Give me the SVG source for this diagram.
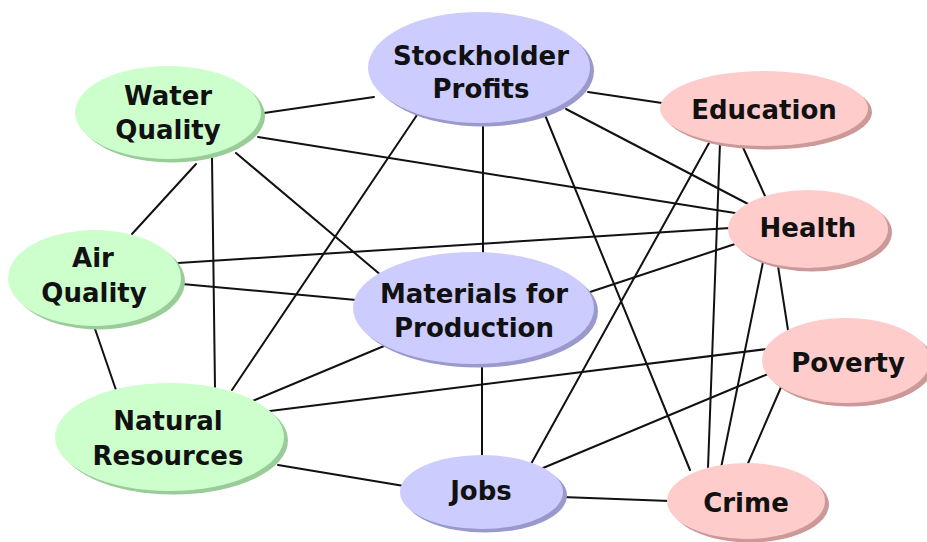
<svg xmlns="http://www.w3.org/2000/svg" width="927" height="542" viewBox="0 0 927 542">
<style>
.c line{stroke:#111;stroke-width:2;stroke-linecap:round}
.sg{fill:#99cc99}.fg{fill:#ccffcc}
.sb{fill:#9999cc}.fb{fill:#ccccff}
.sp{fill:#cc9999}.fp{fill:#ffcccc}
text{font-family:"DejaVu Sans","Liberation Sans",sans-serif;font-weight:bold;font-size:26px;fill:#111;text-anchor:middle}
</style>
<rect width="927" height="542" fill="#fff"/>
<g id="connectors" class="c">
<line x1="264" y1="113" x2="374" y2="97"/>
<line x1="258" y1="137" x2="735" y2="213"/>
<line x1="236" y1="153" x2="382" y2="276"/>
<line x1="196" y1="164" x2="132" y2="234"/>
<line x1="212" y1="158" x2="215" y2="388"/>
<line x1="588" y1="92" x2="662" y2="103"/>
<line x1="566" y1="109" x2="750" y2="205"/>
<line x1="483" y1="122" x2="483" y2="254"/>
<line x1="417" y1="115" x2="232" y2="390"/>
<line x1="545" y1="115" x2="690" y2="470"/>
<line x1="741" y1="143" x2="765" y2="196"/>
<line x1="720" y1="143" x2="708" y2="468"/>
<line x1="709" y1="143" x2="531" y2="464"/>
<line x1="178" y1="263" x2="730" y2="228"/>
<line x1="182" y1="284" x2="356" y2="300"/>
<line x1="94" y1="326" x2="116" y2="390"/>
<line x1="590" y1="292" x2="735" y2="244"/>
<line x1="384" y1="346" x2="250" y2="402"/>
<line x1="482" y1="362" x2="482" y2="457"/>
<line x1="763" y1="262" x2="721" y2="468"/>
<line x1="778" y1="266" x2="788" y2="330"/>
<line x1="270" y1="411" x2="767" y2="349"/>
<line x1="278" y1="465" x2="404" y2="486"/>
<line x1="543" y1="468" x2="768" y2="374"/>
<line x1="562" y1="497" x2="670" y2="501"/>
<line x1="782" y1="385" x2="746" y2="468"/>
</g>
<g id="water-quality">
<ellipse class="sg" cx="172" cy="116" rx="93" ry="46.5"/>
<ellipse class="fg" cx="168" cy="112.5" rx="93" ry="46.5"/>
<text x="168" y="105">Water</text>
<text x="168" y="139">Quality</text>
</g>
<g id="stockholder-profits">
<ellipse class="sb" cx="483" cy="71" rx="111" ry="55.5"/>
<ellipse class="fb" cx="479" cy="67.5" rx="111" ry="55.5"/>
<text x="481" y="65">Stockholder</text>
<text x="481" y="98">Profits</text>
</g>
<g id="education">
<ellipse class="sp" cx="768" cy="112" rx="104" ry="37.5"/>
<ellipse class="fp" cx="764" cy="108.5" rx="104" ry="37.5"/>
<text x="764" y="119">Education</text>
</g>
<g id="health">
<ellipse class="sp" cx="812" cy="232.5" rx="80" ry="39"/>
<ellipse class="fp" cx="808" cy="229" rx="80" ry="39"/>
<text x="808" y="237">Health</text>
</g>
<g id="air-quality">
<ellipse class="sg" cx="98.5" cy="281.5" rx="86.5" ry="48"/>
<ellipse class="fg" cx="94.5" cy="278" rx="86.5" ry="48"/>
<text x="93" y="267">Air</text>
<text x="94" y="302">Quality</text>
</g>
<g id="materials-for-production">
<ellipse class="sb" cx="477.5" cy="311.5" rx="120.5" ry="56"/>
<ellipse class="fb" cx="473.5" cy="308" rx="120.5" ry="56"/>
<text x="474" y="303">Materials for</text>
<text x="474" y="337">Production</text>
</g>
<g id="natural-resources">
<ellipse class="sg" cx="173.5" cy="440.5" rx="114.5" ry="54"/>
<ellipse class="fg" cx="169.5" cy="437" rx="114.5" ry="54"/>
<text x="168" y="430">Natural</text>
<text x="168" y="465">Resources</text>
</g>
<g id="poverty">
<ellipse class="sp" cx="850" cy="364" rx="84" ry="42.5"/>
<ellipse class="fp" cx="846" cy="360.5" rx="84" ry="42.5"/>
<text x="848" y="372">Poverty</text>
</g>
<g id="jobs">
<ellipse class="sb" cx="485.5" cy="495.5" rx="81.5" ry="37"/>
<ellipse class="fb" cx="481.5" cy="492" rx="81.5" ry="37"/>
<text x="481" y="500">Jobs</text>
</g>
<g id="crime">
<ellipse class="sp" cx="750" cy="504.5" rx="79" ry="38"/>
<ellipse class="fp" cx="746" cy="501" rx="79" ry="38"/>
<text x="746" y="512">Crime</text>
</g>
</svg>
